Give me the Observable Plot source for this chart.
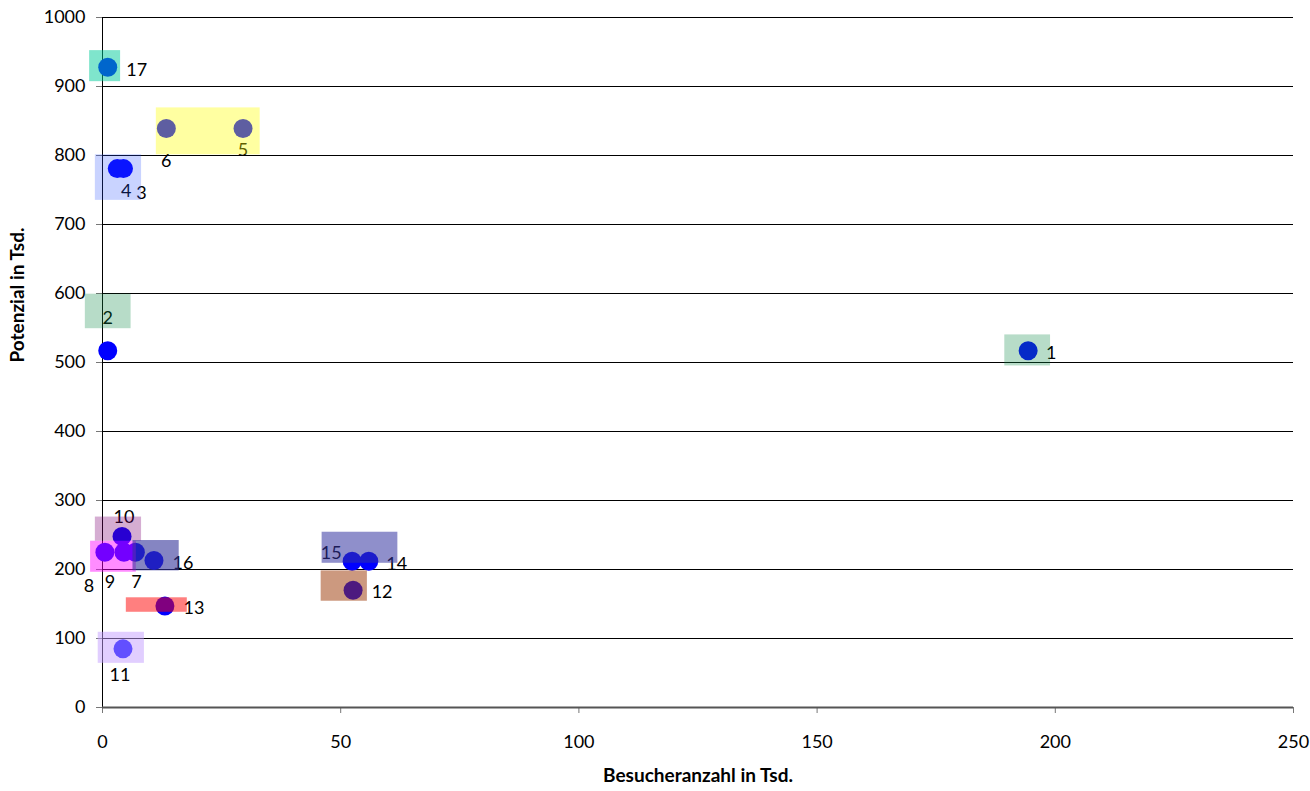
<!DOCTYPE html>
<html><head><meta charset="utf-8">
<script src="https://cdn.jsdelivr.net/npm/d3@7"></script>
<script src="https://cdn.jsdelivr.net/npm/@observablehq/plot@0.6"></script>
<style>body{margin:0;background:#fff}</style>
</head><body><div id="chart"></div>
<script>
// Data
const ids       = ["1","2","3","4","5","6","7","8","9","10","11","12","13","14","15","16","17"];
const besucher  = [194.3, 1.1, 4.4, 3.1, 29.5, 13.4, 6.9, 0.5, 4.5, 4.1, 4.3, 52.6, 13.1, 55.9, 52.4, 10.8, 1.1];
const potenzial = [517, 517, 781, 781, 839, 839, 225, 225, 225, 248, 85, 170, 147, 212, 212, 213, 928];

// Highlight boxes (data units)
const boxX1 = [-2.7, 11.3, -1.5, -3.6, 189.4, -1.5, -2.5,  6.4,  5.0, -0.9, 46.1, 45.9];
const boxX2 = [ 3.8, 33.1,  8.2,  6.0, 199.0,  8.2,  7.1, 16.1, 17.8,  8.8, 62.0, 55.6];
const boxY1 = [907, 801, 735, 549, 495, 241, 196, 198, 138,  64, 209, 154];
const boxY2 = [952, 869, 801, 599, 540, 276, 241, 242, 159, 109, 254, 198];

// Styles
const boxColor   = ["0,204,153","255,255,0","39,78,255","18,138,72","18,138,72","125,0,114","255,0,255","51,51,153","255,0,0","196,157,255","51,51,160","153,51,0"];
const boxOpacity = [0.5, 0.37, 0.25, 0.3, 0.3, 0.32, 0.45, 0.6, 0.5, 0.5, 0.55, 0.5];
const labelDx = [23, 0, 18, 9, 0, 0, 1, -16, -14, 2, -3, 29, 29, 28, -21, 29, 29];
const labelDy = [2, -33, 25, 23, 22, 33, 30, 34, 30, -19, 26, 2, 2, 3, -8, 3, 3];

const xTicks = [0, 50, 100, 150, 200, 250];
const yTicks = [0, 100, 200, 300, 400, 500, 600, 700, 800, 900, 1000];

const points = ids.map((id, i) => ({id, x: besucher[i], y: potenzial[i]}));
const boxes = boxX1.map((_, i) => ({
  x1: boxX1[i], x2: boxX2[i], y1: boxY1[i], y2: boxY2[i],
  fill: `rgba(${boxColor[i]},${boxOpacity[i]})`
}));

const FONT = "Lato, 'Open Sans', sans-serif";

const chart = Plot.plot({
  width: 1310,
  height: 791,
  marginLeft: 102,
  marginRight: 17,
  marginTop: 17,
  marginBottom: 84,
  style: {fontFamily: FONT, background: "#fff", color: "#000"},
  x: {domain: [0, 250]},
  y: {domain: [0, 1000]},
  marks: [
    Plot.ruleY(yTicks.filter(d => d > 0), {stroke: "#000", strokeWidth: 1}),
    Plot.axisY({ticks: yTicks, tickFormat: d => String(d), tickSize: 6, tickPadding: 11, fontSize: 18, stroke: "#777", label: null}),
    Plot.axisX({ticks: xTicks, tickFormat: d => String(d), tickSize: 6, tickPadding: 22, fontSize: 18, stroke: "#777", label: null}),
    Plot.ruleX([0], {stroke: "#000", strokeWidth: 1}),
    Plot.ruleY([0], {stroke: "#555", strokeWidth: 2}),
    Plot.dot(points, {x: "x", y: "y", r: 9.5, fill: "#0000ff", stroke: "none"}),
    ...points.map((p, i) => Plot.text([p], {x: "x", y: "y", text: "id", dx: labelDx[i], dy: labelDy[i], fontSize: 18, fill: "#000"})),
    Plot.rect(boxes, {x1: "x1", x2: "x2", y1: "y1", y2: "y2", fill: d => d.fill}),
    Plot.text(["Besucheranzahl in Tsd."], {frameAnchor: "bottom", dy: 74, fontSize: 19, fontWeight: "bold", fill: "#000"}),
    Plot.text(["Potenzial in Tsd."], {frameAnchor: "left", dx: -85, rotate: -90, fontSize: 19, fontWeight: "bold", fill: "#000"})
  ]
});
document.getElementById("chart").appendChild(chart);
</script></body></html>
